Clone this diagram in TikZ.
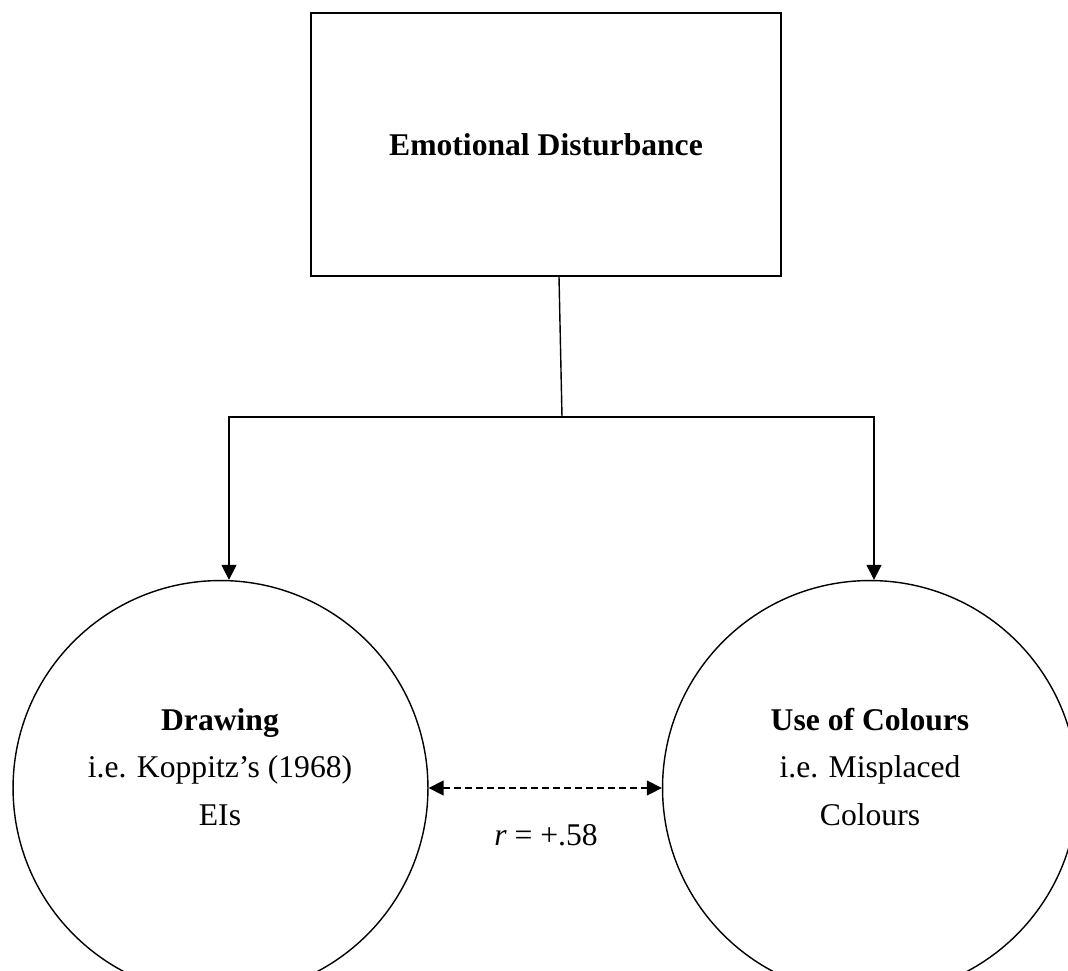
\documentclass[tikz,border=0pt]{standalone}
\usepackage{fontspec}
\setmainfont{Liberation Serif}
\usetikzlibrary{arrows.meta,calc}
\tikzset{
  edbox/.style={draw, line width=0.9pt, minimum width=9.4cm, minimum height=5.26cm},
  bigcirc/.style={draw, circle, line width=0.8pt, minimum size=8.3cm, inner sep=0pt},
  txt/.style={align=center, inner sep=0pt, font=\fontsize{18pt}{27pt}\selectfont},
  arr/.style={line width=0.8pt, -{Triangle[length=0.3cm,width=0.3cm]}},
  dasharr/.style={line width=0.8pt, dash pattern=on 0.14cm off 0.08cm,
    {Triangle[length=0.3cm,width=0.3cm]}-{Triangle[length=0.3cm,width=0.3cm]}}
}
\begin{document}
\begin{tikzpicture}[x=0.02cm, y=-0.02cm]
\clip (0,0) rectangle (1068,970);
\node[edbox, txt] (ed) at (546,144.5) {\textbf{Emotional Disturbance}};
\node[bigcirc] (drw) at (220.5,788) {};
\node[bigcirc] (uoc) at (870,788) {};
\node[txt] (drwtxt) at (220,767) {\textbf{Drawing}\\i.e. Koppitz’s (1968)\\EIs};
\node[txt] (uoctxt) at (870,767) {\textbf{Use of Colours}\\i.e. Misplaced\\Colours};
\node[txt, anchor=base] (corr) at (546,845) {\textit{r} = +.58};
\coordinate (fork) at (562,417);
\draw[line width=0.8pt] ([xshift=0.26cm]ed.south) -- (fork);
\draw[arr] (fork) -| ([xshift=0.17cm]drw.north);
\draw[arr] (fork) -| ([xshift=0.08cm]uoc.north);
\draw[dasharr] (drw.east) -- (uoc.west);
\end{tikzpicture}
\end{document}
